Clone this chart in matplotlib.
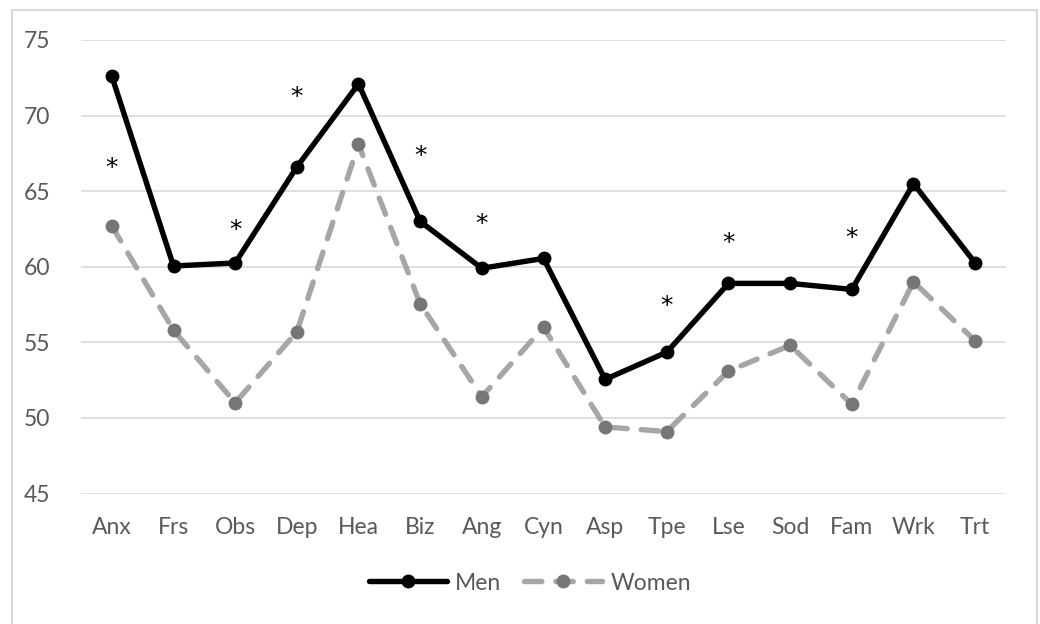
import matplotlib.pyplot as plt
import matplotlib.transforms as mtrans
from matplotlib.patches import Rectangle

# ── Data ───────────────────────────────────────────────────────────────────
scales = ["Anx", "Frs", "Obs", "Dep", "Hea", "Biz", "Ang", "Cyn",
          "Asp", "Tpe", "Lse", "Sod", "Fam", "Wrk", "Trt"]
men = [72.6, 60.05, 60.25, 66.6, 72.1, 63.0, 59.9, 60.55,
       52.55, 54.35, 58.9, 58.9, 58.5, 65.5, 60.25]
women = [62.7, 55.8, 51.0, 55.7, 68.1, 57.55, 51.4, 56.0,
         49.4, 49.1, 53.1, 54.8, 50.9, 59.0, 55.1]
# significance markers: category -> height of the asterisk
star_cats = ["Anx", "Obs", "Dep", "Biz", "Ang", "Tpe", "Lse", "Fam"]
star_y = [66.9, 62.8, 71.6, 67.7, 63.2, 57.8, 61.95, 62.3]

yticks = [45, 50, 55, 60, 65, 70, 75]

plt.rcParams.update({"font.family": ["Lato", "DejaVu Sans"], "font.size": 16.5})
text_col = "#595959"

fig = plt.figure(figsize=(10.4, 6.24), dpi=100)
ax = fig.add_axes([81 / 1040, 1 - 493.5 / 624, 925 / 1040, 453.5 / 624])

x = range(len(scales))
ax.plot(x, men, color="black", lw=3.9, marker="o", markersize=9,
        solid_joinstyle="round", solid_capstyle="round", label="Men", zorder=4)
ax.plot(x, women, color="#A6A6A6", lw=3.9, marker="o", markersize=9,
        markerfacecolor="#767676", markeredgecolor="#767676",
        dashes=(3.2, 2.6), dash_capstyle="round", label="Women", zorder=3)

# glyph of '*' sits high in its box, nudge it down a little
star_tr = mtrans.offset_copy(ax.transData, fig=fig, x=0, y=-4, units="points")
for c, yv in zip(star_cats, star_y):
    ax.text(scales.index(c), yv, "*", ha="center", va="center",
            fontsize=18, color="black", family="DejaVu Sans", transform=star_tr)

ax.set_xlim(-0.5, len(scales) - 0.5)
ax.set_ylim(45, 75)
ax.set_yticks(yticks)
ax.set_xticks(list(x))
ax.set_xticklabels(scales)
ax.yaxis.grid(True, color="#D9D9D9", lw=1.2)
ax.set_axisbelow(True)
ax.tick_params(length=0, colors=text_col, labelsize=16.5)
ax.tick_params(axis="x", pad=17)
ax.tick_params(axis="y", pad=22)
ax.spines[["top", "right", "left", "bottom"]].set_visible(False)

fig.legend(loc="center", bbox_to_anchor=(530 / 1040, 1 - 583 / 624),
           ncol=2, frameon=False, handlelength=3.4, columnspacing=1.0,
           handletextpad=0.35, labelcolor=text_col, fontsize=16.5)

fig.patches.append(Rectangle((12 / 1040, -0.01), 1025 / 1040, 1 - 10 / 624 + 0.01,
                             transform=fig.transFigure, fill=False,
                             edgecolor="#D9D9D9", lw=1.5))

plt.savefig("out.png")
plt.close()
